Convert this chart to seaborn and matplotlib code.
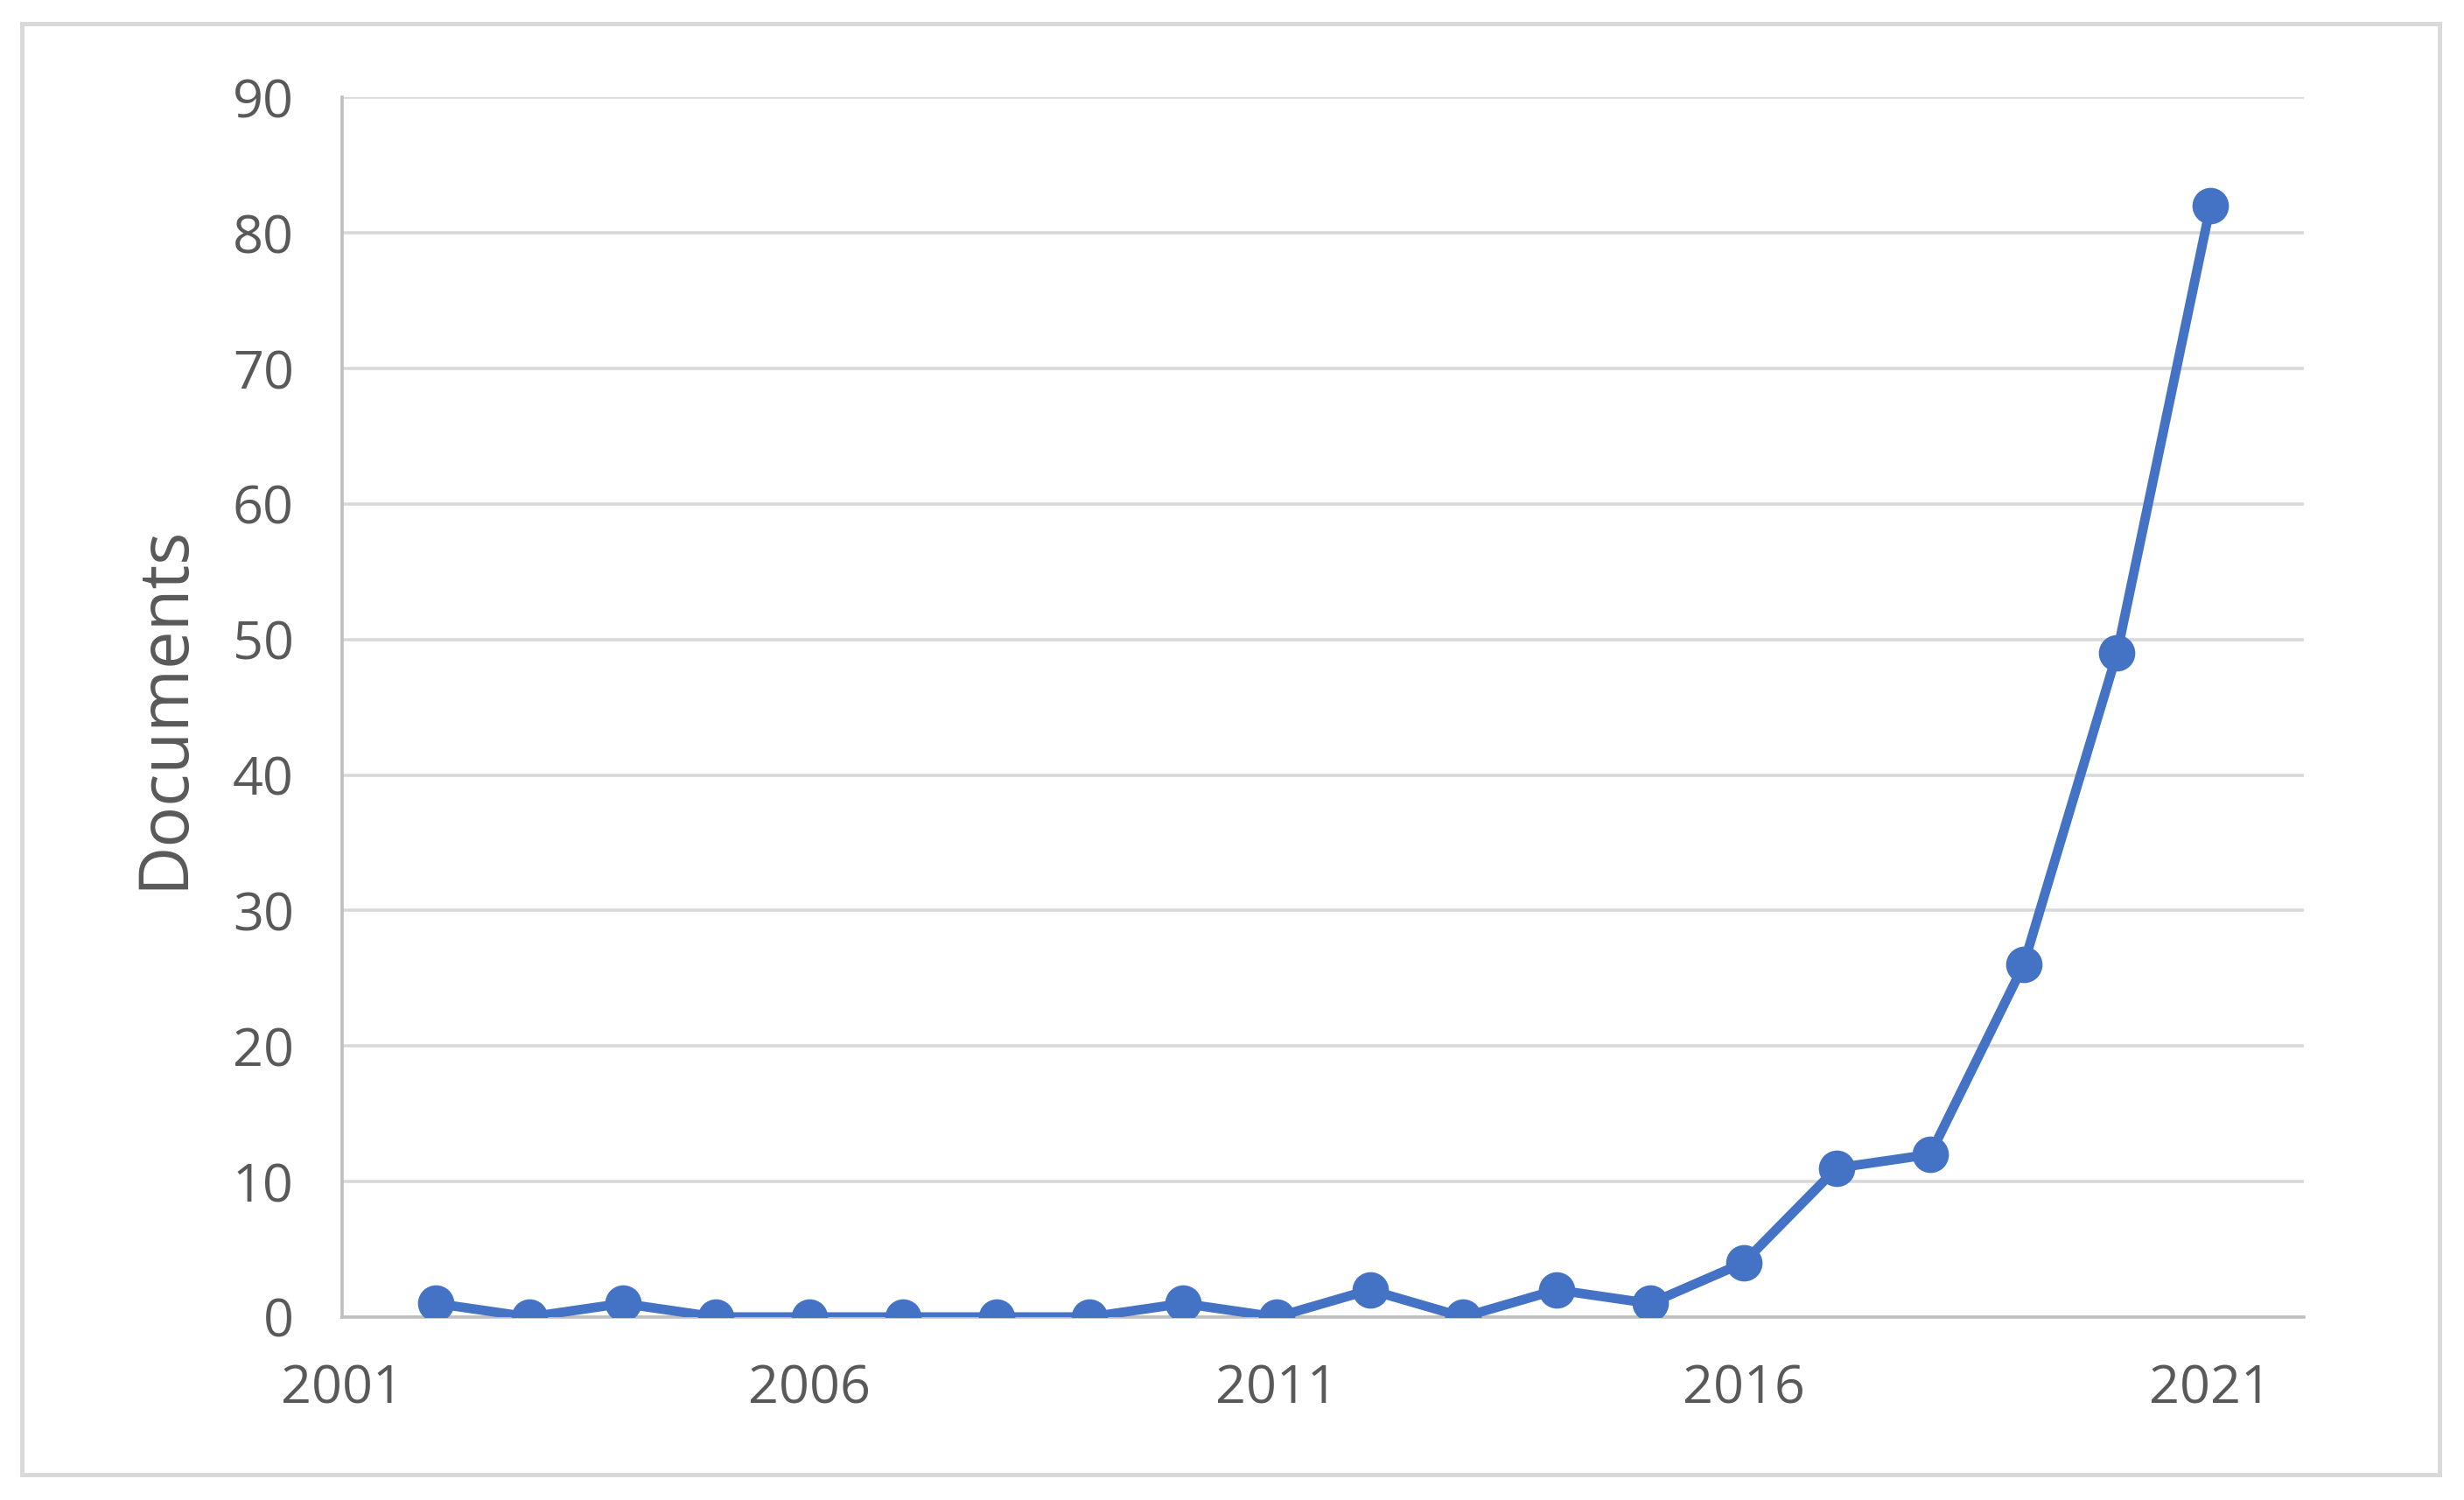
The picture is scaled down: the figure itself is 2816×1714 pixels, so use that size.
import numpy as np
import pandas as pd
import matplotlib
matplotlib.use("Agg")
import matplotlib.pyplot as plt
from matplotlib.patches import Rectangle
import seaborn as sns

years = [2002, 2003, 2004, 2005, 2006, 2007, 2008, 2009, 2010, 2011,
         2012, 2013, 2014, 2015, 2016, 2017, 2018, 2019, 2020, 2021]
documents = [1, 0, 1, 0, 0, 0, 0, 0, 1, 0,
             2, 0, 2, 1, 4, 11, 12, 26, 49, 82]
x_ticks = [2001, 2006, 2011, 2016, 2021]
y_ticks = [0, 10, 20, 30, 40, 50, 60, 70, 80, 90]

sns.set_style("white")
plt.rcParams['font.family'] = ['Open Sans', 'DejaVu Sans']

df = pd.DataFrame({'year': years, 'documents': documents})

fig = plt.figure(figsize=(14.08, 8.57), dpi=200)
ax = fig.add_axes([0.139, 0.122, 0.796, 0.813])

sns.lineplot(data=df, x='year', y='documents', ax=ax, color='#4472C4',
             linewidth=3.9, marker='o', markersize=15, markeredgewidth=0,
             zorder=3)

ax.set_xlim(2001, 2022)
ax.set_ylim(0, 90)
ax.set_xticks(x_ticks)
ax.set_yticks(y_ticks)
ax.yaxis.grid(True, color='#D9D9D9', linewidth=1.3)
ax.xaxis.grid(False)
ax.set_axisbelow(True)

for side in ['top', 'right']:
    ax.spines[side].set_visible(False)
for side in ['left', 'bottom']:
    ax.spines[side].set_color('#BFBFBF')
    ax.spines[side].set_linewidth(1.3)
    ax.spines[side].set_zorder(2)

ax.tick_params(axis='both', which='both', direction='out', length=5, width=1.3,
               color='#BFBFBF', labelcolor='#595959', labelsize=22, pad=15)
ax.tick_params(axis='x', pad=14)

ax.set_xlabel('')
ax.set_ylabel('Documents', fontsize=28, color='#595959', labelpad=14)

fig.patches.append(Rectangle((0.009, 0.017), 0.981, 0.967, transform=fig.transFigure,
                             fill=False, edgecolor='#D9D9D9', linewidth=1.8))

fig.savefig('out.png', dpi=200, facecolor='white')
